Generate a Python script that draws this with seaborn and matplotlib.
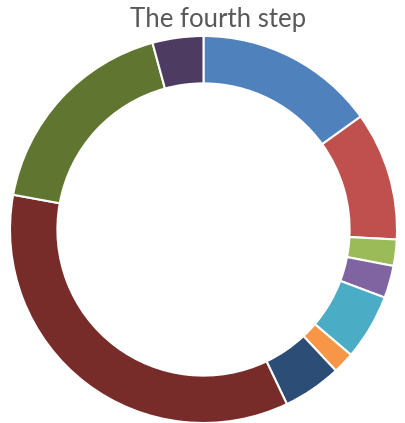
import matplotlib
matplotlib.use("Agg")
import matplotlib.pyplot as plt
import seaborn as sns

sns.set_style("white")
plt.rcParams['font.family'] = ['Lato', 'DejaVu Sans']

categories = ["A", "B", "C", "D", "E", "F", "G", "H", "I", "J"]
values = [15.1, 10.75, 2.2, 2.7, 5.5, 1.8, 4.9, 35.0, 17.9, 4.25]
colors = ["#4F81BD", "#C0504D", "#9BBB59", "#8064A2", "#4BACC6",
          "#F79646", "#2C4D75", "#772C2A", "#5F7530", "#4D3B62"]
title = "The fourth step"

palette = sns.color_palette(colors)

fig = plt.figure(figsize=(4.05, 4.23), dpi=100)
W, H = 405, 423
cx, cy, R = 203.5, 229.5, 193.5
ax = fig.add_axes([(cx - R) / W, (H - cy - R) / H, 2 * R / W, 2 * R / H])
ax.pie(values, colors=palette, startangle=90, counterclock=False, radius=1.0,
       wedgeprops=dict(width=0.245, edgecolor="white", linewidth=1.5))
ax.set_xlim(-1, 1)
ax.set_ylim(-1, 1)
ax.set_aspect("equal")
ax.axis("off")
fig.text(218 / W, 1 - 27 / H, title, ha="center", va="baseline", fontsize=18.5, color="#595959")
fig.savefig("out.png", dpi=100)
